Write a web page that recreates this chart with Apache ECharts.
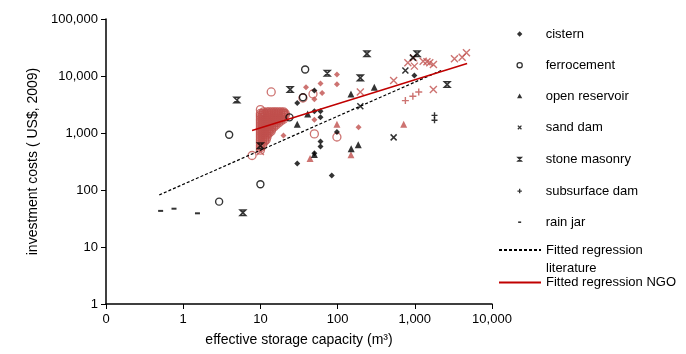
<!DOCTYPE html>
<html>
<head>
<meta charset="utf-8">
<script src="https://cdn.jsdelivr.net/npm/echarts@6/dist/echarts.min.js"></script>
<style>
html,body{margin:0;padding:0;background:#fff;}
#chart{width:686px;height:354px;}
</style>
</head>
<body>
<div id="chart"></div>
<script>
// ---------- data ----------
const typeNames = ['cistern', 'ferrocement', 'open reservoir', 'sand dam', 'stone masonry', 'subsurface dam', 'rain jar'];
const lineNames = ['Fitted regression literature', 'Fitted regression NGO'];

const xTicks = [0.1, 1, 10, 100, 1000, 10000];
const xTickLabels = ['0', '1', '10', '100', '1,000', '10,000'];
const yTicks = [1, 10, 100, 1000, 10000, 100000];
const yTickLabels = ['1', '10', '100', '1,000', '10,000', '100,000'];

// literature (black)
const litCistern = [[30,3360],[50,5560],[50,2400],[60,2400],[60,1880],[98,1040],[60,712],[60,581],[50,443],[988,10200],[30,292],[84,179]];
const litFerro = [[3.94,930],[2.92,62.5],[10,126],[23.8,1880],[38,13000],[35.6,4240]];
const litOpen = [[30,1430],[41,2150],[149,4840],[299,6350],[150,529],[185,622],[50,420]];
const litSand = [[197,2940],[532,837],[755,12500],[944,21000]];
const litStone = [[240,24500],[73.5,11200],[197,9270],[1072,24500],[2625,7090],[24.3,5790],[4.95,3790],[10,598],[5.93,40]];
const litSub = [[1800,2040],[1800,1670]];
const litJar = [[0.51,43],[0.76,47],[1.53,39]];

// NGO (red)
const ngoCistern = [[98,10600],[98,7200],[60,7400],[63,5040],[39,6350],[50,3900],[50,1710],[187,1260],[19.9,907]];
const ngoFerroScattered = [[13.8,5250],[10,2570],[7.8,403],[11.9,762],[13.8,1070],[19.8,2240],[19.8,1880],[50,965],[98,850],[35.6,4110],[48,4840]];
// dense NGO ferrocement cluster near 10-20 m3: [cost, [capacities...]]
const ngoFerroCluster = [
  [2350, [11,12.2,13,14,15,16,17.2,18.5,20]],
  [2200, [10,10.7,11.4,12.2,13,14,15,16,17.2,18.5,20,21]],
  [2050, [10,10.7,11.4,12.2,13,14,15,16,17.2,18.5,20,21]],
  [1900, [10,10.7,11.4,12.2,13,14,15,16,17.2,18.5,20]],
  [1750, [10,10.7,11.4,12.2,13,14,15,16,17.2,18.5,20]],
  [1620, [10,10.7,11.4,12.2,13,14,15,16,17.2,18.5]],
  [1500, [10,10.7,11.4,12.2,13,14,15,16,17.2]],
  [1380, [10,10.7,11.4,12.2,13,14,15,16]],
  [1270, [10,10.7,11.4,12.2,13,14,15]],
  [1170, [10,10.7,11.4,12.2,13,14]],
  [1080, [10,10.7,11.4,12.2,13]],
  [1000, [10,10.7,11.4,12.2,13]],
  [920,  [10,10.7,11.4,12.2]],
  [850,  [10,10.7,11.4,12.2]],
  [780,  [10,10.7,11.4]],
  [720,  [10,10.7,11.4]],
  [660,  [10,10.7]],
  [600,  [10,10.7]],
  [550,  [10]],
  [500,  [10]]
];
const ngoOpen = [[718,1430],[149,415],[44,357],[98,1430]];
const ngoSand = [[532,8340],[813,17000],[967,20800],[988,14900],[1283,18200],[1437,17700],[1562,17000],[1743,15900],[1740,5800],[3264,20000],[4105,21400],[4667,25500],[197,5250],[10,475]];
const ngoSub = [[755,3700],[944,4410],[1125,5250]];

// fitted regression lines (end points)
const litFit = [[0.49,82],[2260,12700]];
const ngoFit = [[7.8,1110],[4760,16600]];

// ---------- build ----------
const ngoFerro = ngoFerroScattered.slice();
ngoFerroCluster.forEach(function (row) {
  row[1].forEach(function (cap) { ngoFerro.push([cap, row[0]]); });
});

const BLACK = '#000000';
const RED = '#c0504d';
const REDLINE = '#c00000';
const FONT = 'Liberation Sans, Arial, sans-serif';

const SYM = {
  x: 'path://M0,0L10,10M10,0L0,10',
  stone: 'path://M0,0L10,0L0,10L10,10Z',
  plus: 'path://M5,0L5,10M0,5L10,5'
};
// legend icons: bounding box equals legend item box (42 x 14), centre (21,7)
const LEG = {
  cistern: 'path://M0,0M42,14M21,4.3L23.7,7L21,9.7L18.3,7Z',
  ferro: 'path://M0,0M42,14M23.6,7A2.6,2.6,0,1,1,18.4,7A2.6,2.6,0,1,1,23.6,7Z',
  open: 'path://M0,0M42,14M21,4.2L23.6,9L18.4,9Z',
  sand: 'path://M0,0M42,14M19.2,5.2L22.8,8.8M22.8,5.2L19.2,8.8',
  stone: 'path://M0,0M42,14M19.2,5.2L22.8,5.2L19.2,8.8L22.8,8.8Z',
  plus: 'path://M0,0M42,14M21,4.8L21,9.2M18.8,7L23.2,7',
  jar: 'path://M0,0M42,14M19.5,6.2L22.5,6.2L22.5,7.8L19.5,7.8Z'
};

function filled(name, data, symbol, size, color) {
  return {name, type: 'scatter', data, symbol, symbolSize: size,
    itemStyle: {color: color, borderWidth: 0}, z: 2};
}
function stroked(name, data, symbol, size, color, bw) {
  return {name, type: 'scatter', data, symbol, symbolSize: size,
    itemStyle: {color: 'rgba(0,0,0,0)', borderColor: color, borderWidth: bw}, z: 2};
}

const series = [
  // NGO (red), drawn first
  stroked('ferrocement NGO', ngoFerro, 'circle', 8, RED, 1.3),
  filled('cistern NGO', ngoCistern, 'diamond', 6, RED),
  filled('open reservoir NGO', ngoOpen, 'triangle', 7, RED),
  stroked('sand dam NGO', ngoSand, SYM.x, 7, RED, 1.4),
  stroked('subsurface dam NGO', ngoSub, SYM.plus, 7, RED, 1.4),
  // literature (black)
  filled(typeNames[0], litCistern, 'diamond', 6, BLACK),
  stroked(typeNames[1], litFerro, 'circle', 7, BLACK, 1.4),
  filled(typeNames[2], litOpen, 'triangle', 7, BLACK),
  stroked(typeNames[3], litSand, SYM.x, 6, BLACK, 1.5),
  stroked(typeNames[4], litStone, SYM.stone, 5.5, BLACK, 1.6),
  stroked(typeNames[5], litSub, SYM.plus, 6, BLACK, 1.4),
  filled(typeNames[6], litJar, 'rect', [5, 2], BLACK),
  // regression lines
  {name: lineNames[0], type: 'line', data: litFit, symbol: 'none', z: 5,
    lineStyle: {color: BLACK, width: 1.2, type: [3, 2]}, itemStyle: {color: BLACK, opacity: 0}},
  {name: lineNames[1], type: 'line', data: ngoFit, symbol: 'none', z: 5,
    lineStyle: {color: REDLINE, width: 1.5}, itemStyle: {color: REDLINE, opacity: 0}}
];

const legendIcons = [LEG.cistern, LEG.ferro, LEG.open, LEG.sand, LEG.stone, LEG.plus, LEG.jar];
const strokeLegend = [false, true, false, true, true, true, false];

function tickFmt(ticks, labels) {
  return function (v) {
    for (let i = 0; i < ticks.length; i++) {
      if (Math.abs(Math.log10(v) - Math.log10(ticks[i])) < 1e-6) return labels[i];
    }
    return '';
  };
}

const option = {
  animation: false,
  backgroundColor: '#ffffff',
  textStyle: {fontFamily: FONT},
  grid: {left: 106, right: 194, top: 19, bottom: 50, containLabel: false},
  xAxis: {
    type: 'log', logBase: 10, min: 0.1, max: 10000,
    name: 'effective storage capacity (m³)', nameLocation: 'middle', nameGap: 29,
    nameTextStyle: {color: BLACK, fontSize: 14, fontFamily: FONT},
    axisLine: {lineStyle: {color: BLACK, width: 1.5}},
    axisTick: {show: true, length: 5, lineStyle: {color: BLACK, width: 1}},
    axisLabel: {color: BLACK, fontSize: 13, fontFamily: FONT, margin: 9, formatter: tickFmt(xTicks, xTickLabels)},
    splitLine: {show: false}, minorTick: {show: false}
  },
  yAxis: {
    type: 'log', logBase: 10, min: 1, max: 100000,
    name: 'investment costs ( US$, 2009)', nameLocation: 'middle', nameGap: 64, nameRotate: 90,
    nameTextStyle: {color: BLACK, fontSize: 14, fontFamily: FONT},
    axisLine: {lineStyle: {color: BLACK, width: 1.5}},
    axisTick: {show: true, length: 5, lineStyle: {color: BLACK, width: 1}},
    axisLabel: {color: BLACK, fontSize: 13, fontFamily: FONT, margin: 8, formatter: tickFmt(yTicks, yTickLabels)},
    splitLine: {show: false}, minorTick: {show: false}
  },
  legend: [
    {
      orient: 'vertical', left: 498, top: 27, padding: 0,
      itemWidth: 42, itemHeight: 14, itemGap: 16.5,
      selectedMode: false,
      textStyle: {color: BLACK, fontSize: 13, fontFamily: FONT},
      data: typeNames.map((n, i) => {
        const d = {name: n, icon: legendIcons[i]};
        if (strokeLegend[i]) d.itemStyle = {borderWidth: 1.3};
        return d;
      })
    },
    {
      orient: 'vertical', left: 498, top: 223, padding: 0,
      itemWidth: 42, itemHeight: 14, selectedMode: false,
      textStyle: {color: BLACK, fontSize: 13, fontFamily: FONT, lineHeight: 18},
      formatter: function () { return ' \nFitted regression\nliterature'; },
      data: [lineNames[0]]
    },
    {
      orient: 'vertical', left: 498, top: 276, padding: 0,
      itemWidth: 42, itemHeight: 14, selectedMode: false,
      textStyle: {color: BLACK, fontSize: 13, fontFamily: FONT},
      data: [lineNames[1]]
    }
  ],
  series: series
};

const chart = echarts.init(document.getElementById('chart'), null, {renderer: 'canvas'});
chart.setOption(option);
</script>
</body>
</html>
